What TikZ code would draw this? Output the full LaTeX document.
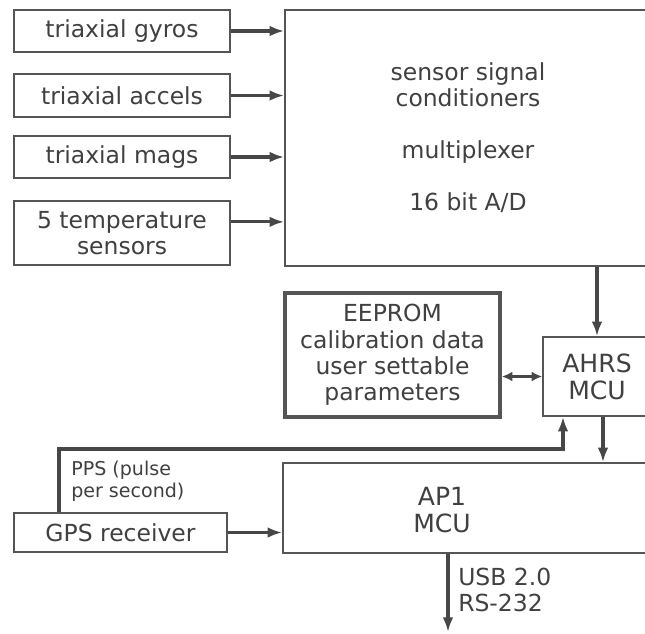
\documentclass[tikz,border=0pt]{standalone}
\usepackage{fontspec}
\setmainfont{DejaVu Sans}
\usetikzlibrary{arrows.meta,fit,calc}
\definecolor{ink}{HTML}{404040}
\definecolor{edge}{HTML}{555555}
\definecolor{wire}{HTML}{474747}
\tikzset{
  blk/.style={draw=edge, line width=1.15pt, inner sep=0pt},
  heavy/.style={blk, line width=2.7pt},
  txt/.style={text=ink, align=center, inner sep=0pt, font=\fontsize{17.6}{19.6}\selectfont},
  mcutxt/.style={txt, font=\fontsize{18.8}{20.2}\selectfont},
  arr/.style={draw=wire, line width=2.4pt, -{Latex[length=11pt,width=8pt]}},
  biarr/.style={draw=wire, line width=2.4pt, {Latex[length=8pt,width=7.5pt]}-{Latex[length=8pt,width=7.5pt]}},
  note/.style={text=ink, align=left, inner sep=0pt, anchor=west},
}
\begin{document}
\begin{tikzpicture}[x=0.75pt, y=-0.75pt]
\useasboundingbox (0,0) rectangle (645,633);
\clip (0,0) rectangle (645,633);
\fill[white] (0,0) rectangle (645,633);

% sensor inputs
\node[blk, fit={(14,10)(230,52)}] (gyro) {};
\node[blk, fit={(14,74)(230,117)}] (accel) {};
\node[blk, fit={(14,136)(230,178)}] (mag) {};
\node[blk, fit={(14,201)(230,265)}] (temp) {};
\node[txt] (gyrotxt) at (gyro.center) {triaxial gyros};
\node[txt] (acceltxt) at (accel.center) {triaxial accels};
\node[txt] (magtxt) at (mag.center) {triaxial mags};
\node[txt] (temptxt) at (temp.center) {5 temperature\\sensors};

% conditioning / conversion block
\node[blk, fit={(285,10)(651,266)}] (cond) {};
\node[txt] (condtxt) at (468,85) {sensor signal\\conditioners};
\node[txt] (mux) at (468,152) {multiplexer};
\node[txt] (adc) at (468,203) {16 bit A/D};

% memory and processors
\node[heavy, fit={(285,293)(500,417)}] (eeprom) {};
\node[txt, font=\fontsize{17.6}{19.8}\selectfont] (eepromtxt) at (eeprom.center)
  {EEPROM\\calibration data\\user settable\\parameters};
\node[blk, fit={(543,337)(651,416)}] (ahrs) {};
\node[mcutxt] (ahrstxt) at (ahrs.center) {AHRS\\MCU};
\node[blk, fit={(283,463)(660,553)}] (ap1) {};
\node[mcutxt] (ap1txt) at (442,510) {AP1\\MCU};
\node[blk, fit={(14,513)(227,552)}] (gps) {};
\node[txt] (gpstxt) at (gps.center) {GPS receiver};

% helper points for routed wires
\coordinate (tempout) at ($(temp.north east)!0.33!(temp.south east)$);
\coordinate (ppsleft) at (59,449);
\coordinate (ppsright) at (563,449);
\coordinate (usbend) at (448,632);

% sensor wires
\draw[arr] (gyro.east) -- (gyro.east -| cond.west);
\draw[arr] (accel.east) -- (accel.east -| cond.west);
\draw[arr] (mag.east) -- (mag.east -| cond.west);
\draw[arr] (tempout) -- (tempout -| cond.west);

% processing chain
\draw[arr] (ahrs.north |- cond.south) -- (ahrs.north);
\draw[biarr] (eeprom.east |- ahrs.west) -- (ahrs.west);
\draw[arr] ([xshift=4.5pt]ahrs.south) -- ([xshift=4.5pt]ahrs.south |- ap1.north);
\draw[arr] (gps.east) -- (gps.east -| ap1.west);
\draw[arr] (gps.north -| ppsleft) |- (ppsright) -- (ppsright |- ahrs.south);
\draw[arr] (ap1.south -| usbend) -- (usbend);

% wire labels
\node[note, font=\fontsize{14.3}{16.5}\selectfont] (ppslbl) at (71,481) {PPS (pulse\\per second)};
\node[note, font=\fontsize{17.6}{19.6}\selectfont] (usblbl) at (458,590) {USB 2.0\\RS-232};
\end{tikzpicture}
\end{document}
